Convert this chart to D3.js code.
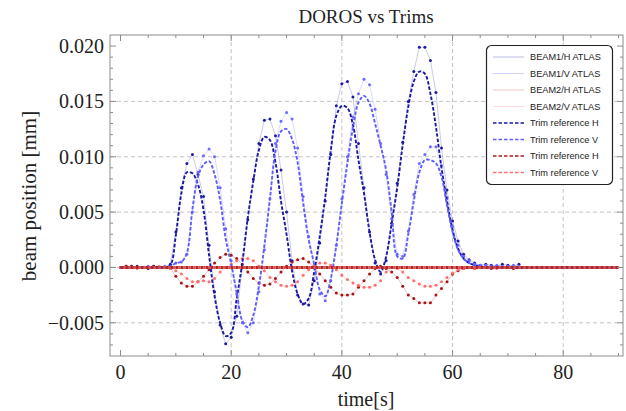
<!DOCTYPE html>
<html>
<head>
<meta charset="utf-8">
<script src="https://cdn.jsdelivr.net/npm/d3@7"></script>
<style>
  body { margin: 0; background: #fff; }
  svg { display: block; }
</style>
</head>
<body>
<div id="chart"></div>
<script>
// sample times [s] of the DOROS readings
const times = [0,1,2,3,4,5,6,7,8,9,10,11,12,13,14,15,16,17,18,19,20,21,22,23,24,25,26,27,28,29,
  30,31,32,33,34,35,36,37,38,39,40,41,42,43,44,45,46,47,48,49,50,51,52,53,54,55,56,57,58,59,
  60,61,62,63,64,65,66,67,68,69,70,71,72];
// the trim references go on at zero up to 90 s
const refTimes = times.concat([90]);

// measured beam positions [mm]
const beam1H = [0.0000,0.0001,0.0000,0.0001,0.0000,-0.0001,0.0001,0.0000,0.0000,
  0.0003,0.0032,0.0072,0.0094,0.0102,0.0084,0.0064,0.0020,-0.0022,-0.0052,-0.0069,
  -0.0063,-0.0044,0.0000,0.0043,0.0080,0.0112,0.0133,0.0134,0.0119,0.0088,
  0.0050,0.0006,-0.0025,-0.0033,-0.0034,-0.0012,0.0022,0.0060,0.0102,0.0146,
  0.0166,0.0168,0.0154,0.0112,0.0072,0.0032,0.0004,-0.0006,0.0006,0.0040,
  0.0076,0.0113,0.0150,0.0177,0.0199,0.0199,0.0187,0.0158,0.0108,0.0070,
  0.0042,0.0024,0.0012,0.0007,0.0004,0.0002,0.0003,0.0002,0.0001,0.0003,0.0002,0.0001,0.0003];
const beam1V = [0.0000,0.0000,0.0001,0.0000,0.0000,0.0001,0.0000,0.0000,0.0001,
  0.0001,0.0004,0.0005,0.0012,0.0050,0.0086,0.0101,0.0107,0.0100,0.0072,0.0035,
  0.0006,-0.0024,-0.0050,-0.0059,-0.0050,-0.0022,0.0016,0.0062,0.0112,0.0132,
  0.0140,0.0134,0.0108,0.0064,0.0028,0.0002,-0.0024,-0.0030,-0.0012,0.0020,
  0.0062,0.0100,0.0136,0.0157,0.0170,0.0165,0.0143,0.0112,0.0084,0.0044,
  0.0012,0.0010,0.0033,0.0066,0.0094,0.0102,0.0109,0.0109,0.0092,0.0063,
  0.0037,0.0020,0.0010,0.0006,0.0003,0.0002,0.0002,0.0001,0.0002,0.0001,0.0001,0.0002,0.0001];
const beam2H = [0.0000,0.0001,0.0001,0.0000,0.0000,0.0000,0.0001,0.0000,0.0000,
  -0.0001,-0.0008,-0.0014,-0.0017,-0.0017,-0.0013,-0.0008,-0.0002,0.0004,0.0009,0.0012,
  0.0011,0.0008,0.0003,-0.0004,-0.0010,-0.0014,-0.0016,-0.0015,-0.0010,-0.0004,
  0.0001,0.0005,0.0007,0.0008,0.0005,0.0000,-0.0006,-0.0012,-0.0018,-0.0023,
  -0.0025,-0.0025,-0.0024,-0.0018,-0.0012,-0.0006,-0.0001,0.0001,-0.0001,-0.0004,
  -0.0009,-0.0017,-0.0025,-0.0028,-0.0032,-0.0032,-0.0032,-0.0025,-0.0019,-0.0013,
  -0.0006,-0.0003,-0.0001,0.0000,-0.0001,0.0000,0.0000,-0.0001,0.0000,0.0000,0.0000,-0.0001,0.0000];
const beam2V = [0.0000,0.0000,0.0000,-0.0001,0.0000,0.0000,0.0000,0.0001,0.0000,
  -0.0001,-0.0003,-0.0006,-0.0010,-0.0013,-0.0013,-0.0012,-0.0013,-0.0010,-0.0004,0.0000,
  0.0003,0.0006,0.0008,0.0008,0.0006,0.0001,-0.0003,-0.0009,-0.0013,-0.0016,
  -0.0017,-0.0016,-0.0013,-0.0007,-0.0002,0.0002,0.0004,0.0004,0.0002,-0.0002,
  -0.0007,-0.0011,-0.0014,-0.0016,-0.0018,-0.0018,-0.0016,-0.0012,-0.0004,0.0000,
  -0.0001,-0.0004,-0.0009,-0.0012,-0.0015,-0.0017,-0.0017,-0.0016,-0.0013,-0.0009,
  -0.0005,-0.0002,-0.0001,0.0000,-0.0001,0.0000,0.0000,0.0000,-0.0001,0.0000,0.0000,0.0000,0.0000];

// trim references [mm]
const trim1H = [0,0,0,0,0,0,0,0,0,
  0.0002,0.0029,0.0067,0.0086,0.0085,0.0075,0.0052,0.0011,-0.0026,-0.0050,-0.0062,
  -0.0059,-0.0028,0.0004,0.0045,0.0078,0.0106,0.0118,0.0115,0.0095,0.0060,
  0.0030,-0.0003,-0.0024,-0.0033,-0.0028,-0.0004,0.0028,0.0064,0.0106,0.0137,
  0.0146,0.0144,0.0129,0.0097,0.0067,0.0032,0.0007,-0.0004,0.0010,0.0040,
  0.0072,0.0111,0.0145,0.0168,0.0177,0.0175,0.0157,0.0127,0.0090,0.0060,
  0.0034,0.0017,0.0008,0.0004,0.0002,0.0001,0,0,0,0,0,0,0, 0];
const trim1V = [0,0,0,0,0,0,0,0,0,
  0.0001,0.0004,0.0005,0.0013,0.0053,0.0082,0.0093,0.0096,0.0084,0.0061,0.0026,
  0.0003,-0.0023,-0.0048,-0.0054,-0.0043,-0.0017,0.0020,0.0062,0.0105,0.0123,
  0.0125,0.0116,0.0095,0.0058,0.0025,0.0003,-0.0020,-0.0026,-0.0010,0.0020,
  0.0058,0.0094,0.0126,0.0149,0.0155,0.0148,0.0130,0.0110,0.0088,0.0050,
  0.0010,0.0008,0.0030,0.0060,0.0086,0.0097,0.0097,0.0094,0.0082,0.0056,
  0.0032,0.0016,0.0008,0.0004,0.0002,0.0001,0,0,0,0,0,0,0, 0];
const trim2H = [0, 0];
const trim2V = [0, 0];
const trim2Times = [0, 90];

const xTicks = [0, 20, 40, 60, 80];
const yTicks = [-0.005, 0, 0.005, 0.010, 0.015, 0.020];
const xGrid = [20, 40, 60, 80];
const yGrid = [-0.005, 0, 0.005, 0.010, 0.015];

const legendLabels = ["BEAM1/H ATLAS", "BEAM1/V ATLAS", "BEAM2/H ATLAS", "BEAM2/V ATLAS",
  "Trim reference H", "Trim reference V", "Trim reference H", "Trim reference V"];

const width = 626, height = 411;
const pLeft = 110, pRight = 623, pTop = 35, pBottom = 356;

const svg = d3.select("#chart").append("svg")
  .attr("width", width).attr("height", height);

const x = d3.scaleLinear().domain([-1.9, 90.8]).range([pLeft, pRight]);
const y = d3.scaleLinear().domain([-0.0080, 0.0210]).range([pBottom, pTop]);

// grid
svg.append("g").selectAll("line").data(xGrid).enter().append("line")
  .attr("x1", d => x(d)).attr("x2", d => x(d)).attr("y1", pTop).attr("y2", pBottom)
  .attr("stroke", "#c4c4c4").attr("stroke-dasharray", "4,3");
svg.append("g").selectAll("line").data(yGrid).enter().append("line")
  .attr("x1", pLeft).attr("x2", pRight).attr("y1", d => y(d)).attr("y2", d => y(d))
  .attr("stroke", "#c4c4c4").attr("stroke-dasharray", "4,3");

svg.append("clipPath").attr("id", "plotclip").append("rect")
  .attr("x", pLeft).attr("y", pTop).attr("width", pRight - pLeft).attr("height", pBottom - pTop);
const plot = svg.append("g").attr("clip-path", "url(#plotclip)");

const straight = d3.line().x(d => x(d[0])).y(d => y(d[1]));
const smooth = d3.line().x(d => x(d[0])).y(d => y(d[1])).curve(d3.curveCatmullRom.alpha(0.5));

const measured = [
  { v: beam1H, line: "rgba(40,40,170,0.28)", dot: "#1c1c9e" },
  { v: beam1V, line: "rgba(90,90,255,0.25)", dot: "#6b6bff" },
  { v: beam2H, line: "rgba(170,20,20,0.28)", dot: "#a81414" },
  { v: beam2V, line: "rgba(255,110,110,0.3)", dot: "#ff6e6e" }
];
measured.forEach(s => {
  const pts = times.map((t, i) => [t, s.v[i]]);
  plot.append("path").attr("d", straight(pts)).attr("fill", "none")
    .attr("stroke", s.line).attr("stroke-width", 0.9);
  plot.append("g").selectAll("circle").data(pts).enter().append("circle")
    .attr("cx", d => x(d[0])).attr("cy", d => y(d[1])).attr("r", 1.5)
    .attr("fill", s.dot);
});

// beam 1 trims
[[trim1H, "#1a1aa6"], [trim1V, "#5e5eff"]].forEach(([vals, col]) => {
  const pts = refTimes.map((t, i) => [t, vals[i]]);
  plot.append("path").attr("d", smooth(pts)).attr("fill", "none")
    .attr("stroke", col).attr("stroke-width", 1.9).attr("stroke-dasharray", "3.5,1.8");
});

// beam 2 trims (zero), two interleaved dashed lines
const t2 = trim2Times.map((t, i) => [t, trim2H[i]]);
const t2v = trim2Times.map((t, i) => [t, trim2V[i]]);
plot.append("path").attr("d", straight(t2)).attr("fill", "none")
  .attr("stroke", "#b82424").attr("stroke-width", 3).attr("stroke-dasharray", "3,2");
plot.append("path").attr("d", straight(t2v)).attr("fill", "none")
  .attr("stroke", "#d85050").attr("stroke-width", 3).attr("stroke-dasharray", "2,3")
  .attr("stroke-dashoffset", -3);

// frame
svg.append("rect").attr("x", pLeft).attr("y", pTop).attr("width", pRight - pLeft).attr("height", pBottom - pTop)
  .attr("fill", "none").attr("stroke", "#8c8c8c").attr("stroke-width", 1);

const frameTicks = svg.append("g").attr("stroke", "#8c8c8c").attr("stroke-width", 1);
const xMinor = d3.range(0, 91, 5);
const yMinor = d3.range(-7, 21, 1).map(d => d / 1000);
xMinor.forEach(t => {
  const len = (t % 20 === 0) ? 6 : 3;
  frameTicks.append("line").attr("x1", x(t)).attr("x2", x(t)).attr("y1", pBottom).attr("y2", pBottom - len);
  frameTicks.append("line").attr("x1", x(t)).attr("x2", x(t)).attr("y1", pTop).attr("y2", pTop + len);
});
yMinor.forEach(v => {
  const major = Math.abs(Math.round(v * 1000) % 5) === 0;
  const len = major ? 6 : 3;
  frameTicks.append("line").attr("x1", pLeft).attr("x2", pLeft + len).attr("y1", y(v)).attr("y2", y(v));
  frameTicks.append("line").attr("x1", pRight).attr("x2", pRight - len).attr("y1", y(v)).attr("y2", y(v));
});

const serif = "'Liberation Serif', 'Times New Roman', serif";
svg.append("g").selectAll("text").data(xTicks).enter().append("text")
  .attr("x", d => x(d)).attr("y", 379).attr("text-anchor", "middle")
  .attr("font-family", serif).attr("font-size", 20).attr("fill", "#222")
  .text(d => d);
const fmt = d3.format(".3f");
svg.append("g").selectAll("text").data(yTicks).enter().append("text")
  .attr("x", 104).attr("y", d => y(d) + 7).attr("text-anchor", "end")
  .attr("font-family", serif).attr("font-size", 20).attr("fill", "#222")
  .text(d => fmt(d).replace("-", "\u2212"));

svg.append("text").attr("x", 366).attr("y", 23).attr("text-anchor", "middle")
  .attr("font-family", serif).attr("font-size", 19).attr("fill", "#222").text("DOROS vs Trims");
svg.append("text").attr("x", 366).attr("y", 406).attr("text-anchor", "middle")
  .attr("font-family", serif).attr("font-size", 20).attr("fill", "#222").text("time[s]");
svg.append("text").attr("transform", "translate(36,196) rotate(-90)").attr("text-anchor", "middle")
  .attr("font-family", serif).attr("font-size", 21).attr("fill", "#222").text("beam position [mm]");

// legend
const legend = svg.append("g");
legend.append("rect").attr("x", 486.5).attr("y", 45.5).attr("width", 126).attr("height", 139)
  .attr("rx", 5).attr("fill", "#fff").attr("stroke", "#222").attr("stroke-width", 1.2);
const legendStyles = [
  { c: "rgba(40,40,170,0.35)", w: 0.9, dash: null },
  { c: "rgba(90,90,255,0.3)", w: 0.9, dash: null },
  { c: "rgba(200,40,40,0.3)", w: 0.9, dash: null },
  { c: "rgba(255,110,110,0.3)", w: 0.9, dash: null },
  { c: "#1a1aa6", w: 1.5, dash: "3.5,2" },
  { c: "#5e5eff", w: 1.5, dash: "3.5,2" },
  { c: "#b01818", w: 1.5, dash: "3.5,2" },
  { c: "#ff7070", w: 1.5, dash: "3.5,2" }
];
legendLabels.forEach((lab, i) => {
  const yy = 57 + i * 16.5;
  legend.append("line").attr("x1", 493).attr("x2", 524).attr("y1", yy).attr("y2", yy)
    .attr("stroke", legendStyles[i].c).attr("stroke-width", legendStyles[i].w)
    .attr("stroke-dasharray", legendStyles[i].dash);
  legend.append("text").attr("x", 530).attr("y", yy + 3.3)
    .attr("font-family", "'Liberation Sans', Arial, sans-serif").attr("font-size", 9.2)
    .attr("fill", "#222").text(lab);
});
</script>
</body>
</html>
